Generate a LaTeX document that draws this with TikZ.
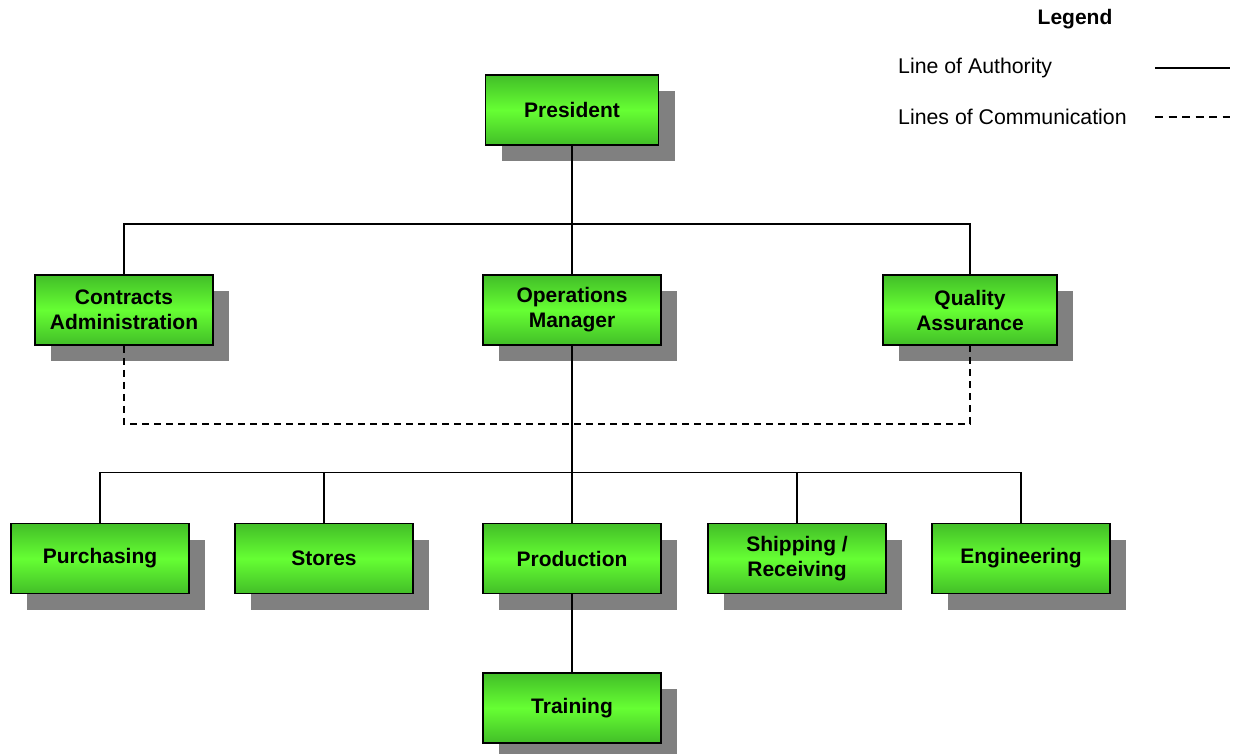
\documentclass[tikz,border=0pt]{standalone}
\usepackage{fontspec}
\setmainfont{Liberation Sans}
\usetikzlibrary{shadows}
\definecolor{gdark}{RGB}{66,190,40}
\definecolor{glight}{RGB}{102,255,51}
\definecolor{shadowgray}{RGB}{128,128,128}
\begin{document}
\begin{tikzpicture}[x=1pt,y=1pt,
  box/.style={draw=black, line width=1.8pt, minimum width=178pt, minimum height=70pt, inner sep=0pt,
    align=center, font=\fontsize{21}{25}\selectfont\bfseries,
    top color=gdark, bottom color=gdark, middle color=glight,
    drop shadow={shadow xshift=16pt, shadow yshift=-16pt, fill=shadowgray, opacity=1, draw=none}},
  link/.style={line width=1.4pt},
  comm/.style={line width=1.4pt, dash pattern=on 7pt off 5pt},
  legtext/.style={font=\fontsize{21.3}{25}\selectfont, anchor=west, inner sep=0pt}]
\useasboundingbox (0,0) rectangle (1235,-753);
% nodes
\node[box, minimum width=173pt] (pres) at (572,-110) {President};
\node[box] (ca) at (124,-310) {Contracts\\Administration};
\node[box] (om) at (572,-310) {Operations\\Manager};
\node[box, minimum width=174pt] (qa) at (970,-310) {Quality\\Assurance};
\node[box] (pur) at (100,-558.5) {Purchasing};
\node[box] (st) at (324,-558.5) {Stores};
\node[box] (prod) at (572,-558.5) {Production};
\node[box] (sr) at (797,-558.5) {Shipping /\\Receiving};
\node[box] (eng) at (1021,-558.5) {Engineering};
\node[box] (tr) at (572,-708) {Training};
% authority lines
\draw[link] (pres.south) -- (om.north);
\draw[link] (ca.north) -- ++(0,50) -| (qa.north);
\draw[link] (om.south) -- (prod.north);
\draw[link] (pur.north) -- ++(0,50) -| (eng.north);
\draw[link] (st.north) -- ++(0,50);
\draw[link] (sr.north) -- ++(0,50);
\draw[link] (prod.south) -- (tr.north);
% communication lines
\draw[comm] (ca.south) -- ++(0,-78) -| (qa.south);
% legend
\node[font=\fontsize{21}{25}\selectfont\bfseries, inner sep=0pt] (leg) at (1075,-19) {Legend};
\node[legtext] (la) at (898,-68) {Line of Authority};
\node[legtext] (lc) at (898,-117) {Lines of Communication};
\coordinate (la1) at (1155,-68);
\coordinate (la2) at (1230,-68);
\coordinate (lc1) at (1155,-117);
\coordinate (lc2) at (1230,-117);
\draw[link] (la1) -- (la2);
\draw[line width=1.4pt, dash pattern=on 8pt off 5.5pt] (lc1) -- (lc2);
\end{tikzpicture}
\end{document}
